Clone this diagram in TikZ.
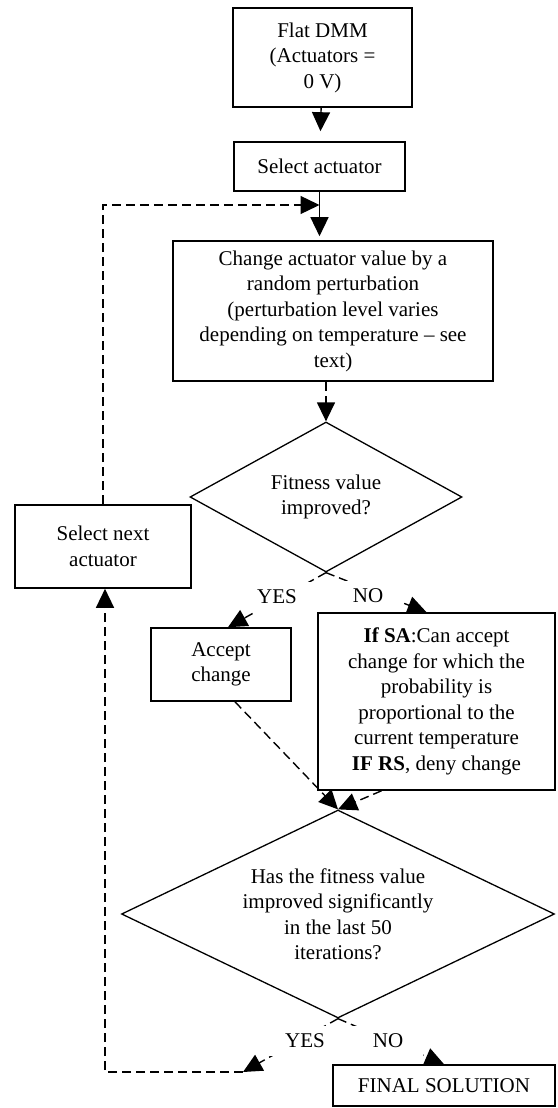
\documentclass[tikz,border=0pt]{standalone}
\usepackage{fontspec}
\setmainfont{Liberation Serif}
\usepackage{tikz}
\usetikzlibrary{arrows.meta}
\usetikzlibrary{shapes}
\tikzset{basic/.style={draw,font=\fontsize{21pt}{25.5pt}\selectfont,align=center,inner sep=0pt}}
\tikzset{process/.style={basic,rectangle,line width=1.6pt}}
\tikzset{decision/.style={basic,diamond,line width=1.3pt}}
\tikzset{answer/.style={font=\fontsize{21pt}{25.5pt}\selectfont,fill=white,inner sep=0pt,minimum width=70pt,minimum height=30pt}}
\tikzset{flow/.style={line width=1.4pt,-{Triangle[width=18pt,length=19pt]}}}
\tikzset{dashflow/.style={flow,dash pattern=on 9pt off 5pt}}

\begin{document}
\begin{tikzpicture}[x=1pt,y=-1pt]
                \useasboundingbox (0,0) rectangle (557,1108);
                \node[process,minimum width=179pt,minimum height=99pt] (flat) at (322.5,57.5) {Flat DMM\\(Actuators =\\0 V)};
                \node[process,minimum width=171pt,minimum height=49pt] (select) at (319.5,166.5) {Select actuator};
                \node[process,minimum width=320pt,minimum height=140pt] (change) at (333,311) {Change actuator value by a\\random perturbation\\(perturbation level varies\\depending on temperature -- see\\text)};
                \node[decision,aspect=1.8,minimum width=272pt,minimum height=150pt] (fit) at (326,497) {Fitness value\\improved?};
                \node[process,minimum width=176pt,minimum height=83pt] (next) at (103,546.5) {Select next\\actuator};
                \node[process,minimum width=140pt,minimum height=73pt] (accept) at (221,664.5) {Accept\\change};
                \node[process,minimum width=237pt,minimum height=177pt] (sa) at (436.5,701.5) {\textbf{If SA}:Can accept\\change for which the\\probability is\\proportional to the\\current temperature\\\textbf{IF RS}, deny change};
                \node[decision,aspect=2.08,minimum width=433pt,minimum height=208pt] (sig) at (338,914) {Has the fitness value\\improved significantly\\in the last 50\\iterations?};
                \node[process,minimum width=222pt,minimum height=41pt] (final) at (444,1085.5) {FINAL SOLUTION};
                % main flow
                \draw[flow,shorten >=10pt] (flat) -- (select);
                \draw[flow,shorten >=4pt] (select.south) -- (select.south |- change.north);
                \draw[dashflow] (fit.north |- change.south) -- (fit.north);
                % first decision
                \draw[dashflow] (fit.south) -- ([xshift=7pt]accept.north);
                \draw[dashflow] (fit.south) -- ([xshift=-10pt]sa.north);
                \draw[dashflow] ([xshift=14pt]accept.south) -- (sig.north);
                \draw[dashflow] ([xshift=-55pt]sa.south) -- (sig.north);
                % second decision and the loop back
                \coordinate (back) at (243,1072);
                \coordinate (merge) at (319.5,205);
                \draw[dashflow] (sig.south) -- (back);
                \draw[dashflow] (back) -| ([xshift=2pt]next.south);
                \draw[dashflow] (next.north) |- (merge);
                \draw[dashflow] (sig.south) -- (final.north);
                \node[answer] (yes1) at (277,597) {YES};
                \node[answer] (no1) at (368,596) {NO};
                \node[answer] (yes2) at (305,1041) {YES};
                \node[answer] (no2) at (388,1041) {NO};
            \end{tikzpicture}
\end{document}
